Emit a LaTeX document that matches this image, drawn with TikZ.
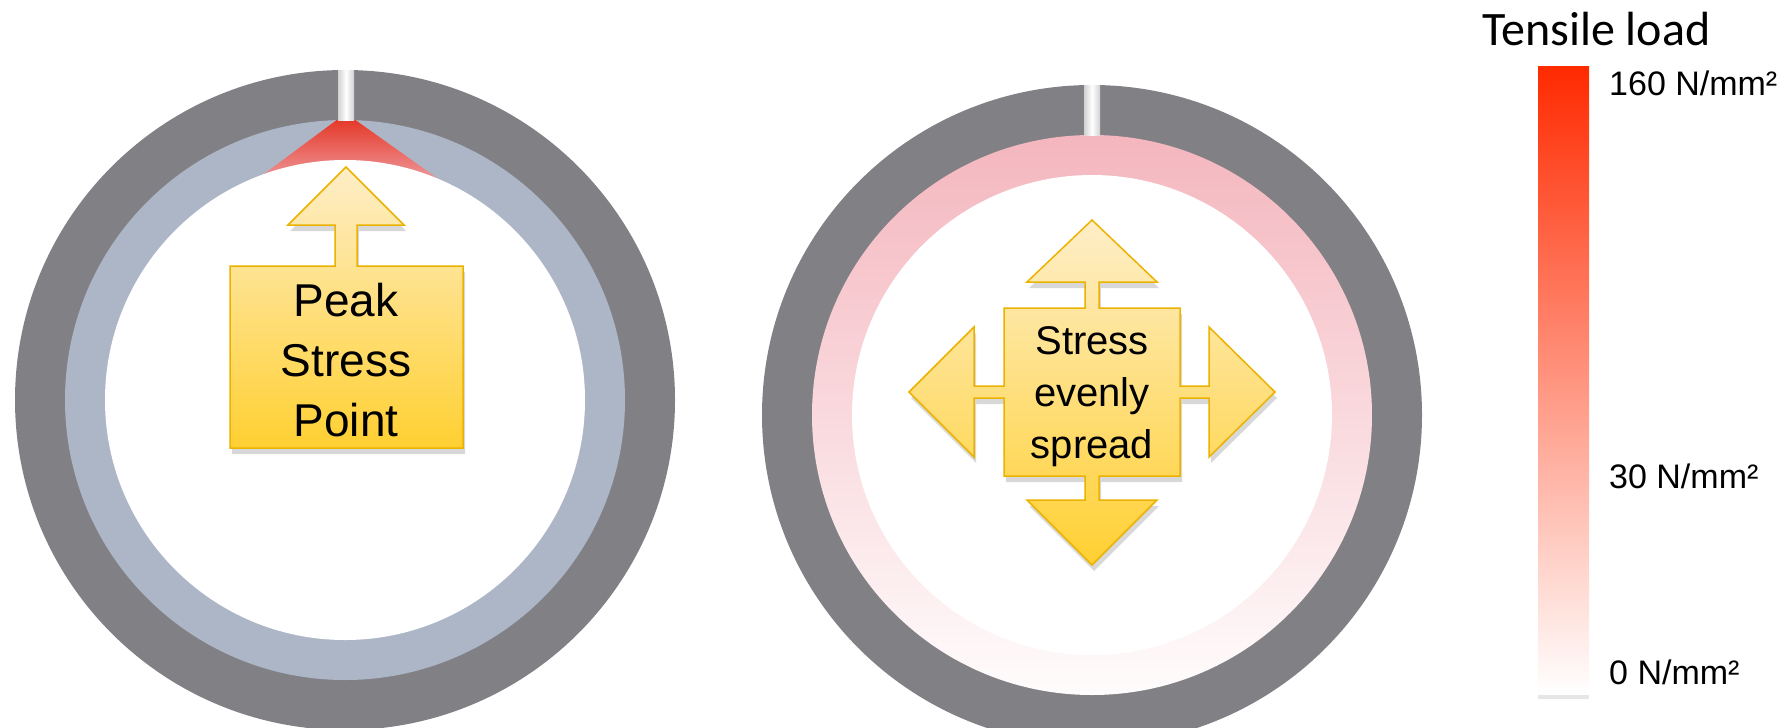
\documentclass[tikz,border=0pt]{standalone}
\usepackage{fontspec}
\setmainfont{Liberation Sans}
\newfontfamily\calibri{Carlito}
\usetikzlibrary{shadows}

\definecolor{ringgray}{RGB}{129,128,133}
\definecolor{ringblue}{RGB}{173,182,198}
\definecolor{ringpink}{RGB}{244,182,190}
\definecolor{peakred}{RGB}{228,56,40}
\definecolor{peakpink}{RGB}{242,182,190}
\definecolor{calloutlight}{RGB}{254,238,200}
\definecolor{calloutgold}{RGB}{255,208,50}
\definecolor{calloutedge}{RGB}{236,178,0}
\definecolor{loadred}{RGB}{255,42,0}

\begin{document}
\begin{tikzpicture}[x=1pt, y=-1pt,
    slit/.style={left color=black!18, right color=black!18, middle color=white},
    callout/.style={draw=calloutedge, line width=1.5pt, line join=miter,
      top color=calloutlight, bottom color=calloutgold,
      drop shadow={opacity=0.3, shadow xshift=2pt, shadow yshift=-6pt}},
    callouttext/.style={align=center, inner sep=0pt},
    loadlabel/.style={anchor=base west, inner sep=0pt, font=\fontsize{34}{40}\selectfont}]
    \clip (0,0) rectangle (1786,728);

    % Ring with a single peak
    \fill[ringgray] (345,400) circle[radius=330];
    \fill[ringblue] (345,400) circle[radius=280];
    \begin{scope}
        \clip (345,400) circle[radius=280];
        \shade[top color=peakred, bottom color=peakpink] (338,119) -- (354,119) -- (468,200) -- (229,200) -- cycle;
    \end{scope}
    \fill[white] (345,400) circle[radius=240];
    \shade[slit] (338,70) rectangle (354,120);

    % Ring with even load
    \fill[ringgray] (1092,415) circle[radius=330];
    \shade[top color=ringpink, middle color=ringpink!96!white, bottom color=ringpink!4!white] (1092,415) circle[radius=280];
    \fill[white] (1092,415) circle[radius=240];
    \shade[slit] (1084,85) rectangle (1100,135);

    % Callouts
    \path[callout] (346,167) -- (404,225) -- (357,225) -- (357,266) -- (463,266) -- (463,448)
        -- (230,448) -- (230,266) -- (335,266) -- (335,225) -- (288,225) -- cycle;
    \node[callouttext, font=\fontsize{46}{60}\selectfont] (peak) at (346,360) {Peak\\Stress\\Point};

    \path[callout] (1092,220) -- (1157,282) -- (1099,282) -- (1099,308) -- (1180,308) -- (1180,386)
        -- (1209,386) -- (1209,327) -- (1275,392) -- (1209,457) -- (1209,398) -- (1180,398)
        -- (1180,476) -- (1099,476) -- (1099,500) -- (1157,500) -- (1092,565) -- (1027,500)
        -- (1085,500) -- (1085,476) -- (1004,476) -- (1004,398) -- (974,398) -- (974,457)
        -- (909,392) -- (974,327) -- (974,386) -- (1004,386) -- (1004,308) -- (1085,308)
        -- (1085,282) -- (1027,282) -- cycle;
    \node[callouttext, font=\fontsize{40}{52}\selectfont] (spread) at (1092,397) {Stress\\evenly\\spread};

    % Legend
    \node[anchor=base west, inner sep=0pt, font=\calibri\fontsize{48}{56}\selectfont] (title) at (1482,45) {Tensile load};
    \shade[top color=loadred, bottom color=white, drop shadow={opacity=0.2, shadow xshift=0pt, shadow yshift=-5pt}] (1538,66) rectangle (1589,694);
    \node[loadlabel] (max) at (1609,95) {160 N/mm²};
    \node[loadlabel] (mid) at (1609,488) {30 N/mm²};
    \node[loadlabel] (zero) at (1609,684) {0 N/mm²};
\end{tikzpicture}
\end{document}
